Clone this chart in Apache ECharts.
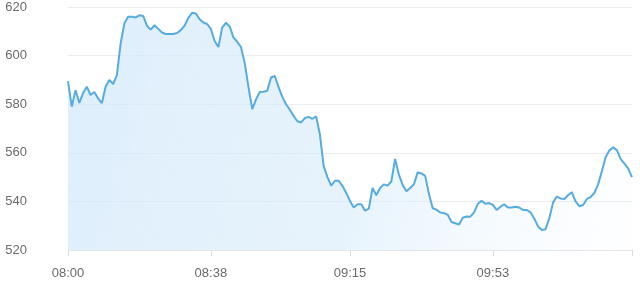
<!DOCTYPE html>
<html>
<head>
<meta charset="utf-8">
<script src="https://cdn.jsdelivr.net/npm/echarts@6/dist/echarts.min.js"></script>
<style>
html,body{margin:0;padding:0;background:#fff;}
#chart{width:640px;height:284px;}
</style>
</head>
<body>
<div id="chart"></div>
<script>
// Time categories: one point per minute from 08:00 to 10:30
var startTime = '08:00';
var pointCount = 151;
var tickLabels = ['08:00', '08:38', '09:15', '09:53'];
var yTicks = [520, 540, 560, 580, 600, 620];

var prices = [
  589.5, 579, 585.8, 580.5, 584.6, 587.2, 583.8, 585, 582.4, 580.4,
  587.2, 590, 588.3, 592, 605, 613.3, 616, 616, 615.7, 616.6,
  616.3, 612.3, 610.7, 612.5, 611, 609.5, 608.9, 608.9, 608.9, 609.3,
  610.5, 612.3, 615.5, 617.6, 617.3, 615, 613.6, 613, 611, 606,
  603.5, 611.5, 613.5, 612, 607.5, 605.7, 603.5, 597, 587, 578,
  582, 585, 585.1, 585.5, 591, 591.6, 587, 583, 580, 577.7,
  575.2, 573, 572.5, 574.3, 574.8, 574, 575, 567.5, 554.5, 550,
  546.5, 548.5, 548.5, 546.3, 543.5, 540.2, 537.5, 538.8, 538.8, 536.2,
  537, 545.5, 542.5, 545.5, 547, 546.5, 548.3, 557.5, 551, 546.8,
  544.2, 545.5, 547, 552, 551.5, 550.5, 543, 537.2, 536.6, 535.4,
  535.2, 534.5, 531.5, 531, 530.5, 533.3, 533.8, 533.7, 535.5, 539,
  540.2, 539, 539.3, 538.6, 536.5, 537.8, 538.8, 537.5, 537.5, 537.8,
  537.5, 536.5, 536.5, 535.5, 533, 529.7, 528.2, 528.5, 533, 539.5,
  542, 541.2, 541, 542.5, 543.8, 540, 538, 538.5, 541, 541.8,
  543.5, 547, 552.5, 558.3, 561, 562.3, 561, 557.4, 555.5, 553.5,
  550
];

var categories = [];
(function () {
  var p = startTime.split(':');
  var m0 = parseInt(p[0], 10) * 60 + parseInt(p[1], 10);
  for (var i = 0; i < pointCount; i++) {
    var m = m0 + i;
    var h = Math.floor(m / 60), mm = m % 60;
    categories.push((h < 10 ? '0' : '') + h + ':' + (mm < 10 ? '0' : '') + mm);
  }
})();

var labelSet = {};
tickLabels.forEach(function (t) { labelSet[categories.indexOf(t)] = true; });
var tickSet = Object.assign({}, labelSet);
tickSet[categories.length - 1] = true;

var chart = echarts.init(document.getElementById('chart'), null, {renderer: 'canvas'});
chart.setOption({
  animation: false,
  grid: {left: 68, right: 8, top: 7, bottom: 34},
  xAxis: {
    type: 'category',
    data: categories,
    boundaryGap: false,
    axisLine: {show: true, lineStyle: {color: '#e3e6ea', width: 1}},
    axisTick: {
      show: true, length: 6,
      interval: function (i) { return !!tickSet[i]; },
      lineStyle: {color: '#d9dde2'}
    },
    axisLabel: {
      interval: function (i) { return !!labelSet[i]; },
      color: '#6a6a6a', fontSize: 13, margin: 17,
      fontFamily: 'Liberation Sans, Arial, sans-serif'
    },
    splitLine: {show: false}
  },
  yAxis: {
    type: 'value',
    min: yTicks[0], max: yTicks[yTicks.length - 1], interval: 20,
    axisLine: {show: false},
    axisTick: {show: false},
    axisLabel: {
      color: '#6a6a6a', fontSize: 13, margin: 41,
      fontFamily: 'Liberation Sans, Arial, sans-serif'
    },
    splitLine: {lineStyle: {color: '#ebedf0', width: 1}}
  },
  series: [{
    type: 'line',
    data: prices,
    symbol: 'none',
    smooth: false,
    lineStyle: {color: '#56acdf', width: 2},
    areaStyle: {
      color: new echarts.graphic.LinearGradient(0, 0, 1, 0.6, [
        {offset: 0, color: 'rgba(205,230,249,0.95)'},
        {offset: 0.55, color: 'rgba(212,234,250,0.8)'},
        {offset: 1, color: 'rgba(235,245,253,0.15)'}
      ])
    }
  }]
});
</script>
</body>
</html>
